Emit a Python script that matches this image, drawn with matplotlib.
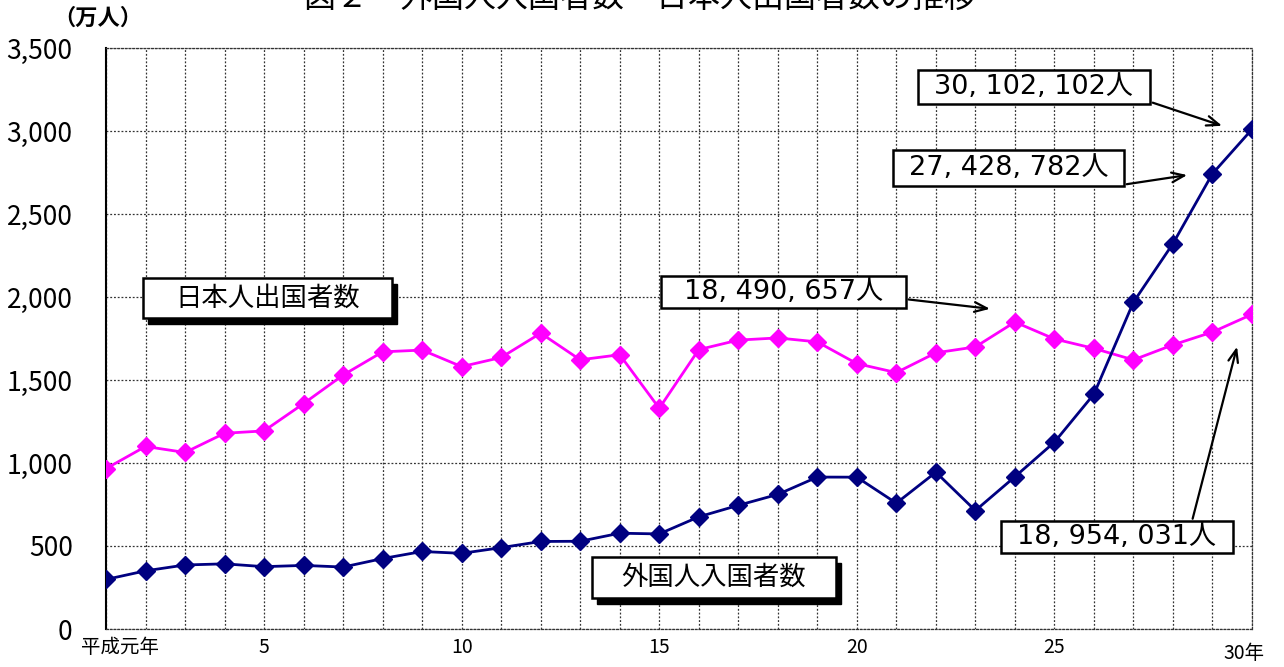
import numpy as np
import matplotlib
matplotlib.use('Agg')
import matplotlib.pyplot as plt
from matplotlib.patches import Rectangle
from matplotlib.ticker import FuncFormatter

plt.rcParams['font.family'] = ['Noto Sans CJK JP', 'DejaVu Sans']

# 平成元年 .. 30年
years = list(range(1, 31))
# 外国人入国者数 (万人)
foreign_in = [298.5, 350.4, 385.6, 392.6, 375.5, 383.1, 373.2, 424.4, 466.9, 455.7,
              490.1, 527.2, 528.6, 577.1, 572.7, 675.7, 745.0, 810.8, 915.2, 914.6,
              758.1, 944.4, 713.5, 917.2, 1125.5, 1415.0, 1968.8, 2321.8, 2742.9, 3010.2]
# 日本人出国者数 (万人)
japanese_out = [966.3, 1099.7, 1063.4, 1179.1, 1193.4, 1357.9, 1529.8, 1669.5, 1680.3, 1580.6,
                1635.8, 1781.9, 1621.6, 1652.3, 1329.6, 1683.1, 1740.4, 1753.5, 1729.5, 1598.7,
                1544.6, 1663.7, 1699.4, 1849.1, 1747.3, 1690.3, 1621.2, 1711.6, 1788.9, 1895.4]
xtick_pos = [1.35, 5, 10, 15, 20, 25]
xtick_lab = ['平成元年', '5', '10', '15', '20', '25']

W, H = 1284, 667
fig = plt.figure(figsize=(W / 100, H / 100), dpi=100)
ax = fig.add_axes([106/W, 38/H, (1252-106)/W, (629-48)/H])

ax.plot(years, japanese_out, color='#FF00FF', lw=2, marker='D', ms=9.5, zorder=3)
ax.plot(years, foreign_in, color='#000080', lw=2, marker='D', ms=9.5, zorder=3)

ax.set_xlim(1, 30)
ax.set_ylim(0, 3500)
ax.set_xticks(years)
ax.set_xticklabels([''] * len(years))
ax.set_yticks(np.arange(0, 3501, 500))
ax.yaxis.set_major_formatter(FuncFormatter(lambda v, p: '{:,.0f}'.format(v)))
ax.tick_params(axis='both', length=0)
ax.tick_params(axis='y', labelsize=19, pad=24)
ax.grid(True, color='#333333', ls=(0, (1.5, 1.5)), lw=0.9)
for s in ['top', 'right', 'bottom']:
    ax.spines[s].set_linestyle((0, (1.5, 1.5)))
    ax.spines[s].set_color('#333333')
    ax.spines[s].set_linewidth(0.9)
ax.spines['left'].set_linewidth(1.5)

for xp, xl in zip(xtick_pos, xtick_lab):
    ax.text(xp, -110, xl, ha='center', va='center', fontsize=14)
ax.text(29.8, -150, '30年', ha='center', va='center', fontsize=14)

fig.text(98/W, 1 - 18/H, '（万人）', ha='center', va='center', fontsize=16, fontweight='bold')
fig.text(640/W, 1 + 2/H, '図２　外国人入国者数・日本人出国者数の推移', ha='center', va='center', fontsize=23)


def box(x0, y0, x1, y1, shadow=False):
    # pixel box from top-left corner of the picture
    if shadow:
        fig.add_artist(Rectangle((x0 / W + 5 / W, 1 - (y1 + 6) / H), (x1 - x0) / W, (y1 - y0) / H,
                                 transform=fig.transFigure, fc='black', ec='black', zorder=5))
    fig.add_artist(Rectangle((x0 / W, 1 - y1 / H), (x1 - x0) / W, (y1 - y0) / H,
                             transform=fig.transFigure, fc='white', ec='black', lw=1.8, zorder=6))
    return (x0 + x1) / 2 / W, 1 - (y0 + y1) / 2 / H


# series labels with shadow
for (x0, y0, x1, y1), s in [((143, 278, 392, 318), '日本人出国者数'),
                            ((592, 557, 836, 598), '外国人入国者数')]:
    cx, cy = box(x0, y0, x1, y1, shadow=True)
    fig.text(cx, cy, s, ha='center', va='center', fontsize=19, zorder=7)

# value callouts
callouts = [
    ('30, 102, 102人', (918, 70, 1150, 104), (27.42, 3176), (29.31, 3026)),
    ('27, 428, 782人', (893, 150, 1124, 186), (26.76, 2677), (28.43, 2737)),
    ('18, 490, 657人', (661, 276, 906, 308), (21.24, 1987), (23.44, 1927)),
    ('18, 954, 031人', (1001, 521, 1233, 553), (28.48, 648), (29.64, 1717)),
]
for s, b, a0, a1 in callouts:
    ax.annotate('', xy=a1, xytext=a0, zorder=4,
                arrowprops=dict(arrowstyle='->,head_length=0.9,head_width=0.35', color='black', lw=1.6))
    cx, cy = box(*b)
    fig.text(cx, cy, s, ha='center', va='center', fontsize=19.5, zorder=7,
             family=['DejaVu Sans', 'Noto Sans CJK JP'])

fig.savefig('out.png', dpi=100)
